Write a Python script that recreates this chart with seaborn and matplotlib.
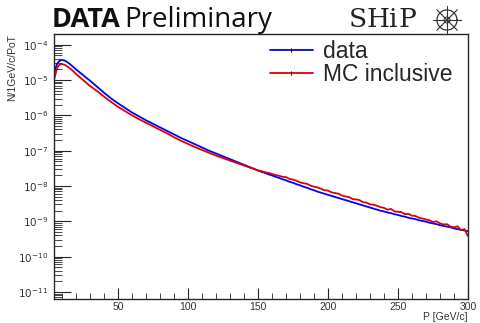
import numpy as np
import pandas as pd
import seaborn as sns
import matplotlib.pyplot as plt
from matplotlib.lines import Line2D
from matplotlib.ticker import LogLocator, NullFormatter, MultipleLocator

# momentum bin centres [GeV/c]
p_low = [4.5, 6, 7, 8, 9, 10, 12, 14, 16, 18, 20]
p_mid = list(range(25, 151, 5))
p_high = list(np.arange(152.5, 300.1, 2.5))
momentum = p_low + p_mid + p_high

# log10 of N/1GeV/c/PoT
data_log = [-4.78, -4.58, -4.50, -4.46, -4.44, -4.43, -4.45, -4.50, -4.56, -4.63, -4.70,
            -4.86, -5.02, -5.19, -5.36, -5.52, -5.66, -5.79, -5.92, -6.03, -6.14, -6.24, -6.34, -6.44,
            -6.54, -6.64, -6.73, -6.82, -6.91, -7.00, -7.08, -7.16, -7.24, -7.32, -7.40, -7.48, -7.56,
            -7.60, -7.63, -7.67, -7.70, -7.74, -7.77, -7.81, -7.84, -7.88, -7.91, -7.95, -7.98,
            -8.02, -8.05, -8.09, -8.12, -8.16, -8.19, -8.22, -8.25, -8.28, -8.31, -8.34, -8.37,
            -8.40, -8.43, -8.46, -8.49, -8.52, -8.55, -8.58, -8.61, -8.64, -8.67, -8.70, -8.72,
            -8.75, -8.77, -8.80, -8.82, -8.85, -8.87, -8.90, -8.92, -8.94, -8.97, -8.99, -9.01,
            -9.04, -9.06, -9.08, -9.11, -9.13, -9.15, -9.17, -9.20, -9.22, -9.24, -9.26, -9.28]
mc_log = [-4.95, -4.72, -4.62, -4.57, -4.55, -4.55, -4.57, -4.62, -4.68, -4.75, -4.83,
          -5.00, -5.17, -5.31, -5.47, -5.62, -5.76, -5.88, -6.00, -6.11, -6.21, -6.31, -6.41, -6.51,
          -6.62, -6.72, -6.81, -6.90, -6.98, -7.06, -7.14, -7.21, -7.28, -7.35, -7.42, -7.49, -7.56,
          -7.58, -7.61, -7.63, -7.66, -7.69, -7.71, -7.74, -7.75, -7.80, -7.82, -7.85, -7.90,
          -7.92, -7.94, -7.99, -8.02, -8.04, -8.08, -8.12, -8.13, -8.18, -8.20, -8.22, -8.27,
          -8.30, -8.31, -8.37, -8.38, -8.40, -8.46, -8.47, -8.52, -8.53, -8.56, -8.60, -8.62,
          -8.67, -8.65, -8.72, -8.73, -8.74, -8.80, -8.79, -8.84, -8.85, -8.90, -8.92, -8.95,
          -8.97, -9.02, -9.00, -9.06, -9.09, -9.08, -9.15, -9.17, -9.14, -9.25, -9.22, -9.42]

ytick_exp = [-11, -10, -9, -8, -7, -6, -5, -4]

df = pd.DataFrame({
    "P": momentum * 2,
    "flux": 10.0 ** np.array(data_log + mc_log),
    "sample": ["data"] * len(momentum) + ["MC inclusive"] * len(momentum),
})

sns.set_style("ticks")
plt.rcParams["font.family"] = ["Liberation Sans", "DejaVu Sans"]

blue = "#0000ff"
red = "#e00000"

fig = plt.figure(figsize=(4.8, 3.23), dpi=100)
ax = fig.add_axes([0.1125, 0.0743, 0.8625, 0.821])

sns.lineplot(data=df, x="P", y="flux", hue="sample",
             palette={"data": blue, "MC inclusive": red},
             linewidth=1.3, ax=ax, legend=False)

ax.set_yscale("log")
ax.set_xlim(4.2, 300)
ax.set_ylim(10 ** -11.2, 10 ** -3.69)

ax.xaxis.set_major_locator(MultipleLocator(50))
ax.xaxis.set_minor_locator(MultipleLocator(10))
ax.set_yticks([10.0 ** e for e in ytick_exp], [f"$10^{{{e}}}$" for e in ytick_exp])
ax.yaxis.set_minor_locator(LogLocator(base=10, subs=np.arange(2, 10), numticks=20))
ax.yaxis.set_minor_formatter(NullFormatter())
ax.tick_params(axis="y", which="major", direction="in", length=12, width=0.8,
               labelsize=7.5, labelcolor="#333333", pad=4)
ax.tick_params(axis="y", which="minor", direction="in", length=6, width=0.6)
ax.tick_params(axis="x", which="major", direction="in", length=8, width=0.8,
               labelsize=7.5, labelcolor="#333333", pad=2)
ax.tick_params(axis="x", which="minor", direction="in", length=4, width=0.6)
for s in ax.spines.values():
    s.set_linewidth(1.0)
    s.set_visible(True)

ax.set_xlabel("P [GeV/c]", loc="right", fontsize=7.5, color="#333333", labelpad=0)
ax.set_ylabel("N/1GeV/c/PoT", loc="top", fontsize=7.5, color="#333333", labelpad=1)

# legend with the small error tick in the middle of each line
handles = [Line2D([], [], color=blue, lw=1.3, marker="|", ms=3, mec="k", mew=0.8),
           Line2D([], [], color=red, lw=1.3, marker="|", ms=3, mec="k", mew=0.8)]
ax.legend(handles, ["data", "MC inclusive"], loc="upper left", bbox_to_anchor=(0.5, 1.01),
          frameon=False, fontsize=16.5, numpoints=1, handlelength=1.85,
          handletextpad=0.45, labelspacing=0.0, borderaxespad=0)

fig.text(52 / 480, 1 - 27 / 323, "DATA", fontsize=19.5, fontweight="bold",
         family="Open Sans", va="baseline", color="#111111")
fig.text(124 / 480, 1 - 27 / 323, "Preliminary", fontsize=20,
         family="Open Sans", va="baseline", color="#111111")
for ch, xp in zip("SHiP", [349, 366, 389, 399]):
    fig.text(xp / 480, 1 - 27 / 323, ch, fontsize=19, family="DejaVu Serif",
             va="baseline", color="#222222")

# ship wheel logo
lax = fig.add_axes([432 / 480, 1 - 35 / 323, 30 / 480, 30 / 323])
lax.axis("off")
th = np.linspace(0, 2 * np.pi, 100)
lax.plot(1.0 * np.cos(th), 1.0 * np.sin(th), color="#333333", lw=0.9)
lax.plot(0.3 * np.cos(th), 0.3 * np.sin(th), color="#333333", lw=0.7)
for a in np.arange(0, 2 * np.pi, np.pi / 4):
    lax.plot([0, 1.45 * np.cos(a)], [0, 1.45 * np.sin(a)], color="#333333", lw=0.8)
lax.set_xlim(-1.5, 1.5)
lax.set_ylim(-1.5, 1.5)

fig.savefig("out.png", dpi=100)
